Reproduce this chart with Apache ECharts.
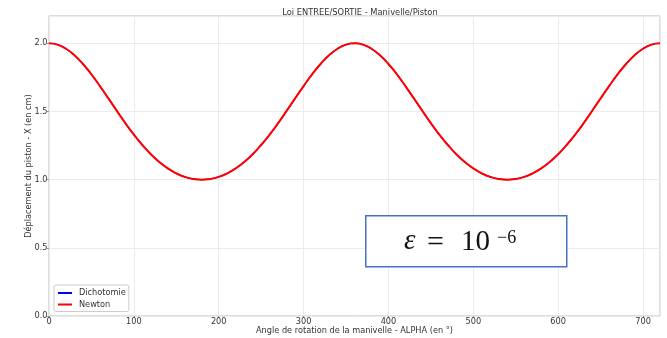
<!DOCTYPE html>
<html>
<head>
<meta charset="utf-8">
<script src="https://cdn.jsdelivr.net/npm/echarts@6/dist/echarts.min.js"></script>
<style>
  html, body { margin: 0; padding: 0; background: #fff; }
  #chart { width: 667px; height: 338px; }
</style>
</head>
<body>
<div id="chart"></div>
<script>
// angles (deg) read along the x axis, step 10
const angles = [
  0, 10, 20, 30, 40, 50, 60, 70, 80, 90, 100, 110, 120, 130, 140, 150, 160, 170,
  180, 190, 200, 210, 220, 230, 240, 250, 260, 270, 280, 290, 300, 310, 320, 330, 340, 350,
  360, 370, 380, 390, 400, 410, 420, 430, 440, 450, 460, 470, 480, 490, 500, 510, 520, 530,
  540, 550, 560, 570, 580, 590, 600, 610, 620, 630, 640, 650, 660, 670, 680, 690, 700, 710, 720
];

// piston displacement (cm)
const newton = [
  2.000, 1.990, 1.960, 1.912, 1.848, 1.772, 1.686, 1.596, 1.504, 1.414, 1.330, 1.254, 1.186, 1.129, 1.082, 1.046, 1.020, 1.005,
  1.000, 1.005, 1.020, 1.046, 1.082, 1.129, 1.186, 1.254, 1.330, 1.414, 1.504, 1.596, 1.686, 1.772, 1.848, 1.912, 1.960, 1.990,
  2.000, 1.990, 1.960, 1.912, 1.848, 1.772, 1.686, 1.596, 1.504, 1.414, 1.330, 1.254, 1.186, 1.129, 1.082, 1.046, 1.020, 1.005,
  1.000, 1.005, 1.020, 1.046, 1.082, 1.129, 1.186, 1.254, 1.330, 1.414, 1.504, 1.596, 1.686, 1.772, 1.848, 1.912, 1.960, 1.990,
  2.000
];

// dichotomie gives the same curve, hidden under the red one
const dichotomie = newton.slice();

const seriesNames = ["Dichotomie", "Newton"];
const seriesColors = ["#0000ff", "#ff0000"];

const xTicks = [0, 100, 200, 300, 400, 500, 600, 700];
const yTicks = [0.0, 0.5, 1.0, 1.5, 2.0];

const FONT = "DejaVu Sans";
const TXT = "#333";
const SERIF = "'Liberation Serif'";

const chart = echarts.init(document.getElementById("chart"));

const toPairs = (vals) => angles.map((a, i) => [a, vals[i]]);

chart.setOption({
  animation: false,
  title: {
    text: "Loi ENTREE/SORTIE - Manivelle/Piston",
    left: 355,
    top: 4,
    textAlign: "center",
    textStyle: { fontFamily: FONT, fontSize: 8.3, fontWeight: "normal", color: TXT }
  },
  grid: {
    left: 49,
    right: 7,
    top: 16,
    bottom: 22,
    outerBoundsMode: "none",
    show: true,
    borderColor: "#bdbdbd",
    borderWidth: 1
  },
  legend: {
    orient: "vertical",
    left: 54,
    top: 285,
    padding: [3, 3, 2, 4],
    itemGap: 1.5,
    itemWidth: 14,
    itemHeight: 2,
    icon: "rect",
    borderColor: "#cccccc",
    borderWidth: 1,
    borderRadius: 2,
    backgroundColor: "#fff",
    textStyle: { fontFamily: FONT, fontSize: 8.2, color: TXT, lineHeight: 10, padding: [0, 0, 0, 2] },
    data: seriesNames
  },
  xAxis: {
    type: "value",
    min: 0,
    max: 720,
    interval: 100,
    name: "Angle de rotation de la manivelle - ALPHA (en °)",
    nameLocation: "middle",
    nameGap: 11,
    nameMoveOverlap: false,
    nameTextStyle: { fontFamily: FONT, fontSize: 8.2, color: TXT },
    axisLine: { show: false },
    axisTick: { show: true, length: 2, lineStyle: { color: "#999" } },
    axisLabel: {
      fontFamily: FONT, fontSize: 8.2, color: TXT, margin: 2,
      showMaxLabel: false,
      formatter: (v) => (xTicks.includes(v) ? String(v) : "")
    },
    splitLine: { show: true, lineStyle: { color: "#ebebeb", width: 1 } }
  },
  yAxis: {
    type: "value",
    min: 0,
    max: 2.2,
    interval: 0.5,
    name: "Déplacement du piston - X (en cm)",
    nameLocation: "middle",
    nameGap: 16,
    nameMoveOverlap: false,
    nameTextStyle: { fontFamily: FONT, fontSize: 8.2, color: TXT },
    axisLine: { show: false },
    axisTick: { show: true, length: 2, lineStyle: { color: "#999" } },
    axisLabel: {
      fontFamily: FONT, fontSize: 8.2, color: TXT, margin: 1.5,
      showMaxLabel: false,
      formatter: (v) => (yTicks.some((t) => Math.abs(t - v) < 1e-6) ? v.toFixed(1) : "")
    },
    splitLine: { show: true, lineStyle: { color: "#ebebeb", width: 1 } }
  },
  graphic: [
    {
      type: "rect",
      left: 365,
      top: 215,
      shape: { width: 201, height: 51 },
      style: { fill: "#fff", stroke: "#4472c4", lineWidth: 1.5 },
      z: 100
    },
    {
      type: "text",
      z: 101,
      style: { x: 404, y: 227, text: "ε", font: "italic 29px " + SERIF, fill: "#111" }
    },
    {
      type: "text",
      z: 101,
      style: { x: 427, y: 228, text: "=", font: "30px " + SERIF, fill: "#111" }
    },
    {
      type: "text",
      z: 101,
      style: { x: 461, y: 228, text: "10", font: "29px " + SERIF, fill: "#111" }
    },
    {
      type: "text",
      z: 101,
      style: { x: 497, y: 229, text: "−6", font: "18px " + SERIF, fill: "#111" }
    }
  ],
  series: [
    {
      name: seriesNames[0],
      type: "line",
      data: toPairs(dichotomie),
      smooth: true,
      showSymbol: false,
      lineStyle: { width: 1.2, color: seriesColors[0] },
      itemStyle: { color: seriesColors[0] },
      z: 2
    },
    {
      name: seriesNames[1],
      type: "line",
      data: toPairs(newton),
      smooth: true,
      showSymbol: false,
      lineStyle: { width: 2, color: seriesColors[1] },
      itemStyle: { color: seriesColors[1] },
      z: 3
    }
  ]
});
</script>
</body>
</html>
